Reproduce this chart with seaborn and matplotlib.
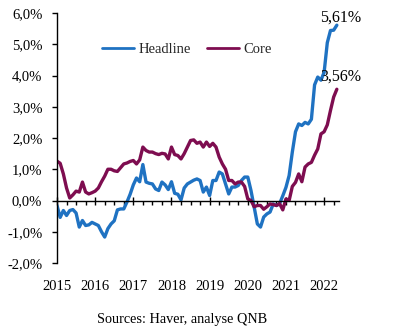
import numpy as np
import pandas as pd
import matplotlib
matplotlib.use("Agg")
import matplotlib.pyplot as plt
import matplotlib.ticker as mticker
import seaborn as sns

# ---- data (monthly, Jan 2015 - May 2022) ----
start_year = 2015
headline = [-0.16, -0.54, -0.32, -0.48, -0.32, -0.29, -0.40, -0.85, -0.64, -0.80,
            -0.78, -0.70, -0.75, -0.80, -1.00, -1.17, -0.90, -0.75, -0.65, -0.30,
            -0.27, -0.27, -0.05, 0.20, 0.50, 0.72, 0.60, 1.15, 0.59, 0.55,
            0.53, 0.37, 0.32, 0.59, 0.50, 0.35, 0.60, 0.23, 0.20, 0.02,
            0.40, 0.53, 0.59, 0.65, 0.69, 0.64, 0.27, 0.43, 0.16, 0.64,
            0.64, 0.91, 0.85, 0.53, 0.21, 0.43, 0.43, 0.48, 0.64, 0.75,
            0.75, 0.32, -0.21, -0.75, -0.85, -0.53, -0.43, -0.37, -0.11, -0.16,
            -0.10, 0.15, 0.42, 0.80, 1.55, 2.20, 2.45, 2.40, 2.50, 2.45,
            2.60, 3.70, 3.95, 3.85, 4.10, 5.05, 5.44, 5.45, 5.61]
core = [1.26, 1.19, 0.85, 0.40, 0.08, 0.18, 0.30, 0.27, 0.59, 0.27,
        0.21, 0.25, 0.30, 0.40, 0.60, 0.78, 1.00, 1.00, 0.95, 0.93,
        1.05, 1.17, 1.20, 1.25, 1.28, 1.17, 1.30, 1.71, 1.60, 1.55,
        1.55, 1.50, 1.47, 1.51, 1.49, 1.33, 1.71, 1.47, 1.44, 1.33,
        1.50, 1.71, 1.92, 1.94, 1.83, 1.87, 1.71, 1.87, 1.73, 1.83,
        1.71, 1.39, 1.17, 1.00, 0.64, 0.64, 0.53, 0.59, 0.59, 0.45,
        0.05, 0.00, -0.20, -0.16, -0.16, -0.28, -0.20, -0.11, -0.13, -0.16,
        -0.10, -0.30, 0.05, 0.00, 0.45, 0.58, 0.85, 0.60, 1.07, 1.17,
        1.22, 1.45, 1.65, 2.13, 2.20, 2.42, 2.88, 3.31, 3.56]
series_names = ["Headline", "Core"]
years = list(range(2015, 2023))
y_ticks = [-2, -1, 0, 1, 2, 3, 4, 5, 6]
source_text = "Sources: Haver, analyse QNB"

colors = {"Headline": "#1F72C2", "Core": "#7E0D50"}

# ---- build long table ----
n = len(headline)
t = start_year + np.arange(n) / 12.0
df = pd.DataFrame({
    "t": np.concatenate([t, t]),
    "value": headline + core,
    "series": ["Headline"] * n + ["Core"] * n,
})

sns.set_theme(style="ticks")
plt.rcParams["font.family"] = ["Liberation Serif", "DejaVu Serif"]
plt.rcParams["axes.unicode_minus"] = False

fig = plt.figure(figsize=(4.17, 3.31), dpi=100)
ax = fig.add_axes([57 / 417, 1 - 263 / 331, (339 - 57) / 417, 250 / 331])

sns.lineplot(data=df, x="t", y="value", hue="series", hue_order=series_names,
             palette=colors, linewidth=2.4, ax=ax, legend=True)

ax.set_xlim(2015, 2022.39)
ax.set_ylim(y_ticks[0], y_ticks[-1])
ax.set_xlabel("")
ax.set_ylabel("")

# spines
for s in ["top", "right"]:
    ax.spines[s].set_visible(False)
ax.spines["bottom"].set_position(("data", 0))
ax.spines["left"].set_linewidth(1.0)
ax.spines["bottom"].set_linewidth(1.0)
ax.spines["left"].set_color("black")
ax.spines["bottom"].set_color("black")

# y ticks
ax.set_yticks(y_ticks)
ax.yaxis.set_major_formatter(mticker.FuncFormatter(
    lambda v, p: f"{v:.1f}%".replace(".", ",")))
ax.tick_params(axis="y", direction="out", length=3.6, width=1.0, pad=7,
               labelsize=10.5, colors="black")

# x ticks on the zero line
ax.set_xticks(years)
ax.xaxis.set_minor_locator(mticker.MultipleLocator(0.25))
ax.tick_params(axis="x", which="major", direction="inout", length=5.5, width=1.0,
               labelbottom=False, color="black")
ax.tick_params(axis="x", which="minor", direction="out", length=3, width=1.0,
               color="black")

# year labels at the bottom
sec = ax.secondary_xaxis("bottom")
sec.set_xticks(years)
sec.set_xticklabels([str(y) for y in years])
sec.spines["bottom"].set_visible(False)
sec.tick_params(axis="x", length=0, pad=12.5, labelsize=10.5, colors="black")
sec.xaxis.set_minor_locator(mticker.NullLocator())

# legend
leg = ax.legend(loc="center", bbox_to_anchor=(0.46, 0.856), ncol=2, frameon=False,
                handlelength=2.2, handletextpad=0.3, columnspacing=1.1,
                fontsize=10.5)
for line in leg.get_lines():
    line.set_linewidth(2.0)

# end-value annotations
t_last = t[-1]
for vals, off in [(headline, (2.7, 2.2)), (core, (2.7, 6.0))]:
    ax.annotate(f"{vals[-1]:.2f}".replace(".", ",") + "%", xy=(t_last, vals[-1]),
                xytext=off, textcoords="offset points", ha="center",
                va="baseline", fontsize=11.5, color="black", annotation_clip=False)

fig.text(182 / 417, 1 - 320 / 331, source_text, ha="center", va="center",
         fontsize=10.3, color="black")

fig.savefig("out.png", dpi=100)
